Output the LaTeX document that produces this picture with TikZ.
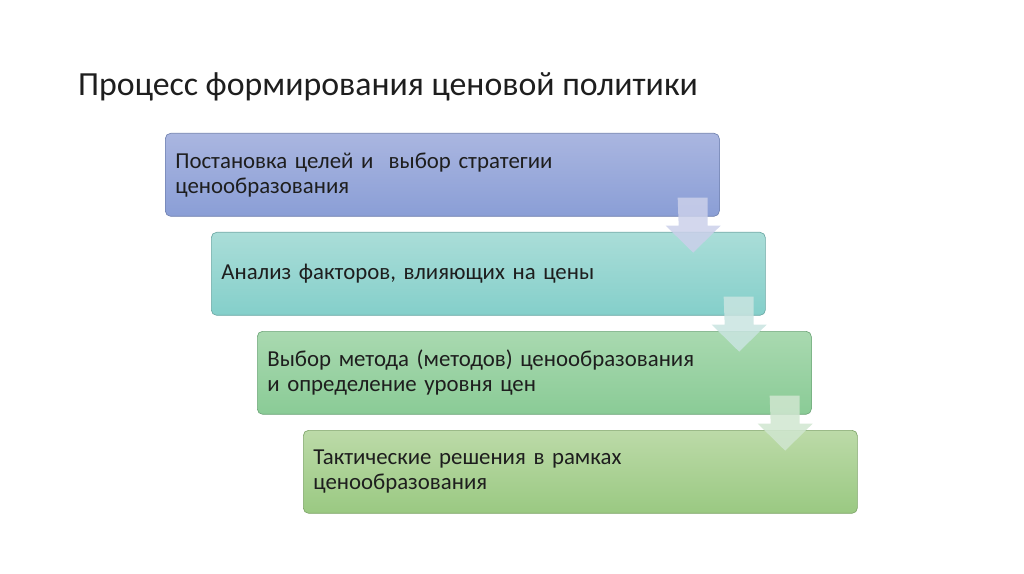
\documentclass[tikz,border=0pt]{standalone}
\usepackage{fontspec}
\setmainfont{Carlito}
\usetikzlibrary{calc}

\definecolor{goalTop}{HTML}{AAB6E0}
\definecolor{goalBot}{HTML}{8A9ED6}
\definecolor{goalLine}{HTML}{6F80AE}
\definecolor{factTop}{HTML}{AADDD8}
\definecolor{factBot}{HTML}{84CFCA}
\definecolor{factLine}{HTML}{6AA7A3}
\definecolor{methTop}{HTML}{A9D9B0}
\definecolor{methBot}{HTML}{8ACB96}
\definecolor{methLine}{HTML}{6DA578}
\definecolor{tactTop}{HTML}{BCDAA8}
\definecolor{tactBot}{HTML}{9AC982}
\definecolor{tactLine}{HTML}{7DA468}
\definecolor{arrA}{HTML}{CBD0EA}
\definecolor{arrB}{HTML}{C9E4E0}
\definecolor{arrC}{HTML}{D0E6D0}
\definecolor{ink}{HTML}{1E1E1E}

\tikzset{
  stepbox/.style={rectangle, rounded corners=5pt, anchor=north west,
    minimum width=519.4pt, minimum height=77.8pt, text width=500.6pt,
    inner xsep=9.4pt, align=left, line width=0.6pt, text=ink,
    font=\fontsize{21.4}{23.8}\selectfont},
  flow/.style={line width=0pt, opacity=0.85}
}

% block arrow hanging below the south east corner of a step
\newcommand{\flowarrow}[2]{%
  \fill[flow, fill=#2] ($(#1.south east)+(-42,-19)$) -- ++(30,0) -- ++(0,28)
    -- ++(13,0) -- ($(#1.south east)+(-26.5,36)$) -- ++(-27.5,-27) -- ++(13,0) -- cycle;}

\begin{document}
\begin{tikzpicture}[x=0.9375pt, y=-0.9375pt]
  \useasboundingbox (0,0) rectangle (1024,574);
  \node[anchor=base west, text=ink, inner sep=0pt, font=\fontsize{31.7}{36}\selectfont]
    (title) at (78,96) {Процесс формирования ценовой политики};

  \node[stepbox, draw=goalLine, top color=goalTop, bottom color=goalBot] (s1) at (165,133)
    {Постановка целей и~ выбор стратегии\\ценообразования};
  \node[stepbox, draw=factLine, top color=factTop, bottom color=factBot] (s2) at (211,232)
    {Анализ факторов, влияющих на цены};
  \node[stepbox, draw=methLine, top color=methTop, bottom color=methBot] (s3) at (257,331)
    {Выбор метода (методов) ценообразования\\и определение уровня цен};
  \node[stepbox, draw=tactLine, top color=tactTop, bottom color=tactBot] (s4) at (303,430)
    {Тактические решения в рамках\\ценообразования};

  \flowarrow{s1}{arrA}
  \flowarrow{s2}{arrB}
  \flowarrow{s3}{arrC}
\end{tikzpicture}
\end{document}
